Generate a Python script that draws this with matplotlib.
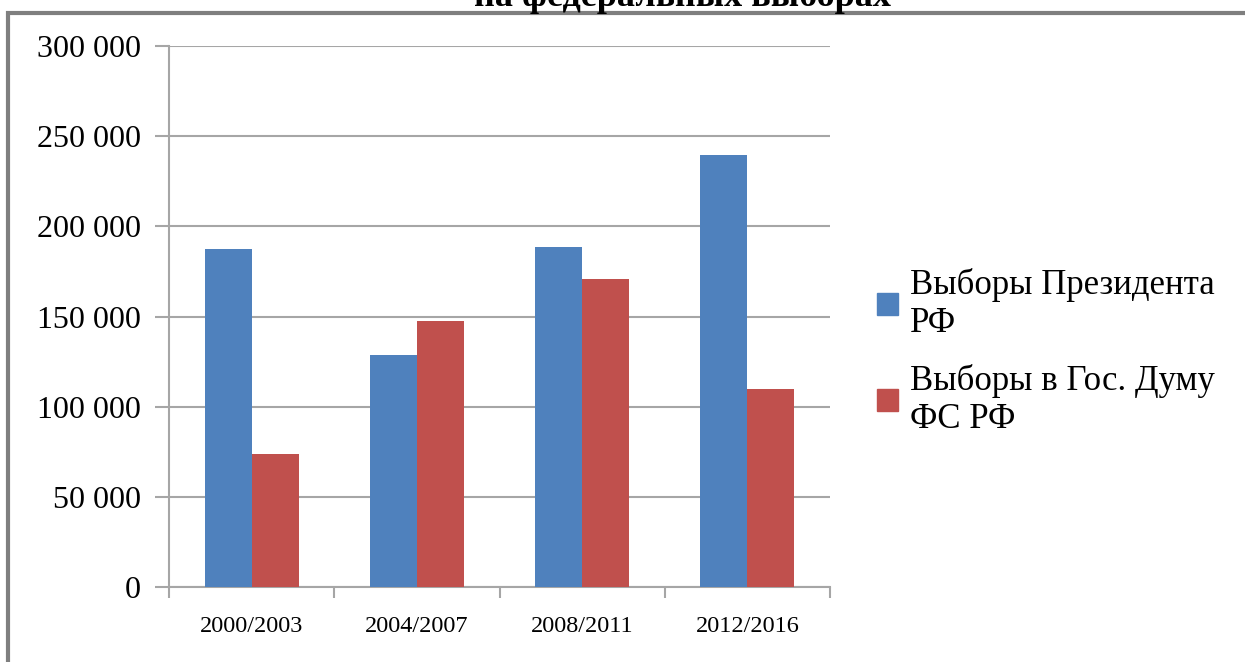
import numpy as np
import matplotlib.pyplot as plt
from matplotlib.patches import Rectangle, Patch
from matplotlib.ticker import FuncFormatter

periods = ["2000/2003", "2004/2007", "2008/2011", "2012/2016"]
president = [187400, 128700, 188500, 239500]
duma = [73800, 147500, 170800, 109800]
series_names = ["Выборы Президента\nРФ", "Выборы в Гос. Думу\nФС РФ"]
colors = ["#4F81BD", "#C0504D"]
grid_col = "#A6A6A6"

plt.rcParams['font.family'] = ['Liberation Serif', 'DejaVu Serif']

fig = plt.figure(figsize=(12.45, 6.62), dpi=100)
ax = fig.add_axes([169/1245, 1-587/662, (830-169)/1245, (587-46)/662])

x = np.arange(len(periods)) + 0.5
w = 0.285
ax.bar(x - w/2, president, w, color=colors[0], zorder=3)
ax.bar(x + w/2, duma, w, color=colors[1], zorder=3)

ax.set_xlim(0, len(periods))
ax.set_ylim(0, 300000)
ax.set_yticks(np.arange(0, 300001, 50000))
ax.yaxis.set_major_formatter(FuncFormatter(lambda v, p: f"{int(v):,}".replace(",", " ")))
ax.grid(axis='y', color=grid_col, linewidth=1.5, zorder=0)

# category boundaries as tick marks, labels in the middle
ax.set_xticks(np.arange(len(periods) + 1))
ax.set_xticklabels([])
ax.set_xticks(x, minor=True)
ax.set_xticklabels(periods, minor=True, fontsize=17.5)
ax.tick_params(axis='x', which='major', length=8, color=grid_col, width=1.5)
ax.tick_params(axis='x', which='minor', length=0, pad=21)
ax.tick_params(axis='y', length=10, color=grid_col, width=1.5, labelsize=23, pad=10)

for s in ['top', 'right']:
    ax.spines[s].set_visible(False)
for s in ['left', 'bottom']:
    ax.spines[s].set_color(grid_col)
    ax.spines[s].set_linewidth(1.5)

handles = [Patch(color=c) for c in colors]
fig.legend(handles, series_names, loc='upper left', bbox_to_anchor=(863/1245, 1-254/662),
           frameon=False, fontsize=25, handlelength=0.6, handleheight=0.6,
           handletextpad=0.35, labelspacing=0.7, borderaxespad=0)

fig.text(682/1245, 1-6/662, "Число избирательных участков\nна федеральных выборах",
         ha='center', va='baseline', fontsize=26, fontweight='bold')

# outer chart frame, running off the right and bottom edges
fig.patches.append(Rectangle((8/1245, -0.1), 1.2, 1-13/662+0.1, transform=fig.transFigure,
                             fill=False, edgecolor='#7F7F7F', linewidth=3, zorder=0))

fig.savefig("out.png", dpi=100)
